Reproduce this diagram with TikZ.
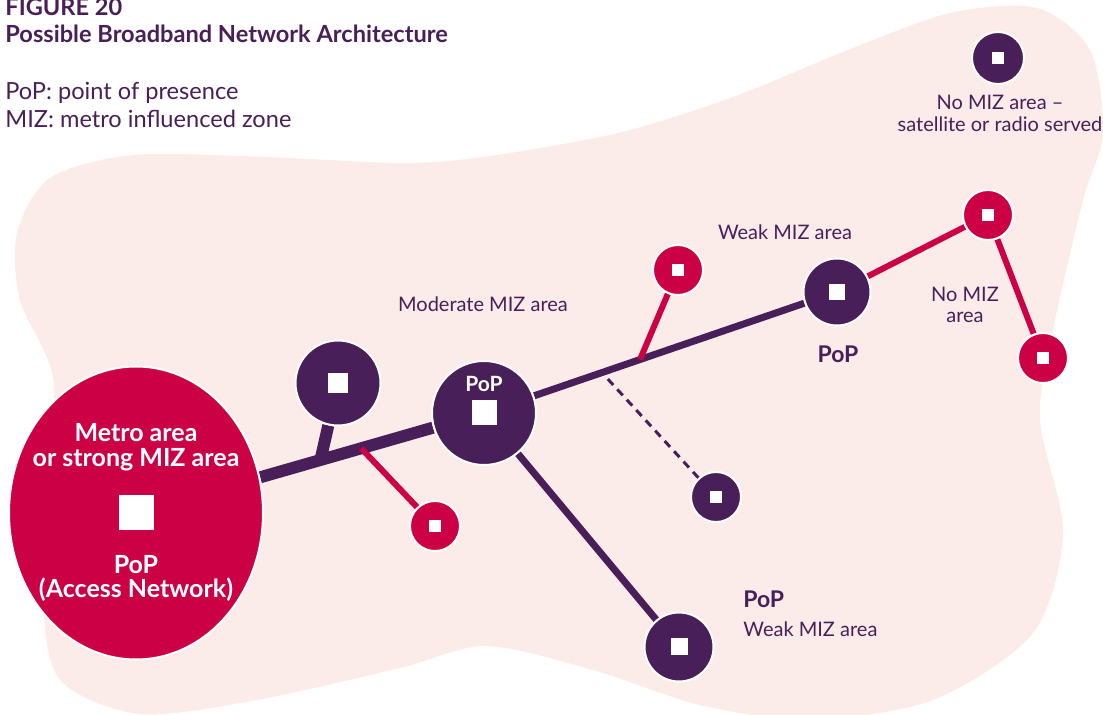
\documentclass[tikz,border=0pt]{standalone}
\usepackage{fontspec}
\setmainfont{Lato}
\usetikzlibrary{shapes.geometric,calc,backgrounds}

\definecolor{plum}{RGB}{72,31,88}
\definecolor{crimson}{RGB}{204,0,68}
\definecolor{blush}{RGB}{251,236,233}

\tikzset{
  hub/.style={circle, draw=white, line width=1pt, inner sep=0pt, minimum size=#1},
  sq/.style={path picture={\fill[white] ([shift={(-0.5*#1,-0.5*#1)}]path picture bounding box.center) rectangle ++(#1,#1);}},
  plumhub/.style 2 args={hub=#1, fill=plum, sq=#2},
  redhub/.style={hub=25pt, fill=crimson, sq=6pt},
  zone/.style={text=plum, inner sep=0pt, align=center, anchor=base, font=\fontsize{10}{10.5}\selectfont},
  poplbl/.style={text=plum, inner sep=0pt, anchor=base, font=\bfseries\fontsize{11.5}{14}\selectfont},
  whitebold/.style={text=white, inner sep=0pt, align=center, anchor=base, font=\bfseries\fontsize{12.5}{12.5}\selectfont},
  legend/.style={text=plum, inner sep=0pt, anchor=base west, font=\fontsize{11.8}{15}\selectfont},
  heading/.style={legend, font=\bfseries\fontsize{11.8}{14}\selectfont},
}

\begin{document}
\begin{tikzpicture}[x=0.5pt,y=-0.5pt] % une unité = un pixel de l'image
\useasboundingbox (0,0) rectangle (1103,715);

% titre et légende
\node[heading] (fig) at (5,16) {FIGURE 20};
\node[heading] (title) at (5,43) {Possible Broadband Network Architecture};
\node[legend] (legpop) at (5,100) {PoP: point of presence};
\node[legend] (legmiz) at (5,128) {MIZ: metro influenced zone};

% zone métropolitaine
\node[ellipse, fill=crimson, draw=white, line width=1pt, minimum width=127pt, minimum height=146.5pt, sq=17.5pt] (metro) at (136,513) {};
\node[whitebold] (metroname) at (136,467) {Metro area\\or strong MIZ area};
\node[whitebold] (metropop) at (136,598) {PoP\\(Access Network)};

% PoP et points d'accès
\node[plumhub={42.5pt}{10pt}] (modA) at (338,383) {};
\node[plumhub={52pt}{12.5pt}] (popc) at (484,413) {};
\node[whitebold, font=\bfseries\fontsize{10.5}{12}\selectfont] (popctxt) at (484,392) {PoP};
\node[redhub] (red1) at (435,526) {};
\node[redhub] (red2) at (678,270) {};
\node[plumhub={33.5pt}{8pt}] (popr) at (837,292) {};
\node[redhub] (red3) at (988,215) {};
\node[redhub] (red4) at (1043,358) {};
\node[plumhub={25pt}{6pt}] (pd) at (716,497) {};
\node[plumhub={34.5pt}{8.5pt}] (popb) at (679,647) {};
\node[plumhub={26pt}{6pt}] (sat) at (998,58) {};

\coordinate (j1) at ($(metro)!0.53!(popc)$);
\coordinate (j2) at ($(metro)!0.647!(popc)$);
\coordinate (j3) at ($(popc)!0.442!(popr)$);
\coordinate (j4) at ($(popc)!0.334!(popr)$);

% textes
\node[zone] (modtxt) at (483,312) {Moderate MIZ area};
\node[zone] (weaktxt) at (785,240) {Weak MIZ area};
\node[zone] (nomiz) at (965,323) {No MIZ\\area};
\node[zone, font=\fontsize{10}{11}\selectfont] (sattxt) at (1000,132) {No MIZ area –\\satellite or radio served};
\node[poplbl] (poprtxt) at (838,363) {PoP};
\node[poplbl, anchor=base west] (popbtxt) at (743,608) {PoP};
\node[zone, anchor=base west] (weakb) at (743,637) {Weak MIZ area};

\begin{scope}[on background layer]
\fill[blush] plot[smooth cycle] coordinates {(133,155) (267,157) (400,163) (483,157) (618,133) (733,97) (848,50) (950,13) (1037,8) (1090,50) (1103,133) (1083,200) (1053,330) (1040,420) (1063,533) (1033,633) (933,700) (810,720) (700,705) (593,670) (486,646) (400,668) (257,700) (140,714) (60,680) (43,600) (48,480) (53,377) (20,300) (17,233) (50,178)};
\draw[plum, line width=6pt] (metro) -- (popc) (modA) -- (j1);
\draw[plum, line width=3.5pt] (popc) -- (popr) (popc) -- (popb);
\draw[plum, line width=1.5pt, dash pattern=on 4pt off 3pt] (pd) -- (j4);
\draw[crimson, line width=3pt] (red1) -- (j2) (red2) -- (j3) (popr) -- (red3) -- (red4);
\end{scope}
\end{tikzpicture}
\end{document}
